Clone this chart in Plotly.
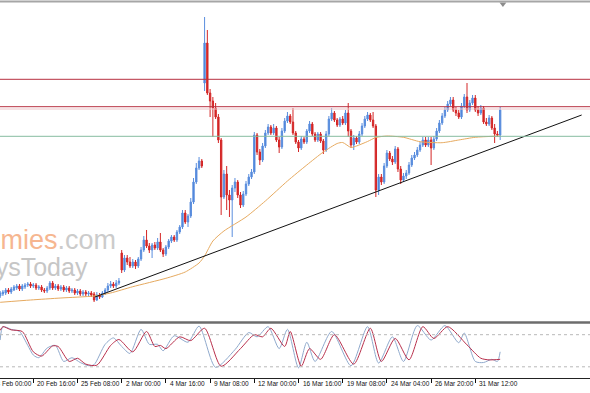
import plotly.graph_objects as go

# ---------------- data (H4 candles) ----------------
opens = [130.4,130.6,130.7,131.0,130.8,131.0,131.2,131.4,131.1,131.3,
         131.5,131.6,131.4,131.5,131.2,131.3,131.0,130.9,131.2,131.7,
         131.2,131.4,131.1,131.3,131.0,131.2,130.9,131.0,130.7,130.9,
         130.6,130.8,130.6,130.7,130.6,130.0,130.5,130.3,130.7,131.0,
         131.4,131.6,131.4,131.7,134.7,133.0,134.2,133.8,133.4,133.8,
         133.4,134.1,135.0,136.0,135.4,135.0,135.5,135.2,135.8,135.0,
         134.6,135.3,135.9,136.3,136.0,136.8,137.3,138.7,137.8,138.4,
         139.8,141.8,143.2,143.9,151.7,155.7,150.7,149.9,149.2,148.3,
         146.0,140.3,142.6,140.5,140.0,141.2,141.8,140.5,139.5,140.6,
         141.6,142.3,142.8,146.5,144.8,144.0,145.4,146.7,147.3,146.7,
         147.2,146.0,145.3,146.9,147.9,148.4,147.8,146.7,145.8,145.2,
         146.1,145.8,146.9,147.6,146.6,146.0,146.6,145.9,145.0,146.6,
         148.1,148.7,148.0,147.5,148.1,147.7,148.7,146.9,145.5,146.2,
         145.8,146.6,147.4,148.1,148.5,148.0,147.4,141.0,142.3,141.8,
         143.4,144.7,144.1,143.8,145.1,143.1,142.0,142.4,142.7,143.5,
         144.2,144.5,145.0,145.5,146.0,145.5,146.0,145.2,146.1,146.9,
         147.7,148.4,149.0,149.6,150.0,149.0,148.7,148.3,149.4,150.3,
         149.0,149.7,150.2,149.0,148.7,149.2,147.8,147.6,148.2,147.2,
         146.6,146.5]
highs = [130.9,131.0,131.2,131.2,131.3,131.5,131.6,131.6,131.6,131.7,
         131.8,131.8,131.7,131.7,131.5,131.5,131.2,131.4,131.9,131.9,
         131.6,131.6,131.5,131.5,131.4,131.4,131.2,131.2,131.1,131.1,
         131.0,131.0,130.9,130.9,130.8,130.8,130.7,130.9,131.2,131.7,
         131.9,131.8,132.0,132.2,135.0,134.5,134.5,134.3,134.1,134.0,
         134.3,135.3,136.4,137.0,135.7,135.7,135.8,136.2,136.7,135.2,
         135.5,136.1,136.5,136.5,137.0,137.5,139.0,139.0,138.6,140.2,
         142.2,143.7,144.3,144.1,158.3,157.0,151.1,150.3,149.7,148.6,
         146.2,143.0,143.4,141.0,141.5,142.2,142.0,140.8,140.9,141.9,
         142.6,143.1,146.8,146.7,145.1,145.7,147.0,147.6,147.5,147.6,
         147.4,146.3,147.2,148.2,148.8,148.6,149.2,146.9,146.0,146.4,
         146.3,147.1,147.9,147.8,146.8,146.8,146.8,146.1,146.9,148.4,
         149.2,148.9,148.2,148.3,148.4,149.0,149.7,147.1,146.5,146.4,
         146.9,147.7,148.4,148.8,148.7,148.8,147.6,142.6,142.6,143.7,
         145.0,144.9,144.4,145.4,145.3,143.4,142.7,143.0,143.8,144.5,
         144.8,145.3,145.8,146.3,146.3,146.3,146.3,146.4,147.2,148.0,
         148.7,149.3,149.9,150.3,150.3,149.3,149.0,149.7,150.6,151.7,
         150.0,150.5,150.5,149.4,149.5,149.4,148.2,148.5,148.4,147.6,
         146.9,149.3]
lows = [130.2,130.4,130.5,130.6,130.6,130.9,131.0,130.9,130.9,131.1,
        131.3,131.2,131.2,131.0,131.0,130.8,130.7,130.7,131.0,131.0,
        131.0,130.9,130.9,130.8,130.8,130.7,130.7,130.5,130.5,130.4,
        130.4,130.4,130.4,130.3,129.8,129.9,130.1,130.2,130.5,130.8,
        131.2,131.2,131.2,131.5,132.7,132.8,133.5,133.2,133.2,133.1,
        133.2,133.9,134.8,135.2,134.7,134.2,135.0,135.0,134.8,134.3,
        134.4,135.1,135.7,135.8,135.8,136.6,137.1,137.6,137.3,138.2,
        139.6,141.6,143.0,143.2,150.9,150.5,148.3,146.3,148.1,145.7,
        138.5,140.1,139.0,138.3,136.3,140.8,140.2,139.2,139.3,140.4,
        141.4,142.1,142.6,144.5,143.5,143.8,145.2,146.5,146.5,146.5,
        145.8,144.7,145.1,146.7,147.7,147.6,146.5,145.6,144.8,145.0,
        145.6,145.6,146.7,146.4,145.8,145.8,145.7,144.6,144.8,146.4,
        147.9,147.8,147.3,147.3,147.5,147.5,146.3,145.2,145.0,145.6,
        145.6,146.4,147.2,147.9,147.8,147.2,140.3,140.5,141.5,141.6,
        143.2,143.9,143.5,143.6,142.8,141.6,141.8,142.1,142.5,143.3,
        144.0,144.3,144.8,145.3,145.3,145.3,143.5,145.0,145.9,146.7,
        147.5,148.2,148.8,149.4,148.8,148.4,148.1,148.1,149.2,148.7,
        148.8,149.5,148.8,148.4,148.5,147.6,147.4,147.4,147.0,145.7,
        146.3,146.0]
closes = [130.7,130.8,131.0,130.8,131.1,131.3,131.4,131.1,131.4,131.5,
          131.6,131.4,131.5,131.2,131.3,131.0,130.9,131.2,131.7,131.2,
          131.4,131.1,131.3,131.0,131.2,130.9,131.0,130.7,130.9,130.6,
          130.8,130.6,130.7,130.5,130.0,130.5,130.3,130.7,131.0,131.4,
          131.6,131.4,131.7,131.9,133.0,134.2,133.8,133.4,133.8,133.4,
          134.1,135.0,136.0,135.4,135.0,135.5,135.2,135.8,135.0,134.6,
          135.3,135.9,136.3,136.0,136.8,137.3,138.7,137.8,138.4,139.8,
          141.8,143.2,143.9,143.4,155.7,150.7,149.9,149.2,148.3,146.0,
          140.3,142.6,140.5,140.0,141.2,141.8,140.5,139.5,140.6,141.6,
          142.3,142.8,146.5,144.8,144.0,145.4,146.7,147.3,146.7,147.2,
          146.0,145.3,146.9,147.9,148.4,147.8,146.7,145.8,145.2,146.1,
          145.8,146.9,147.6,146.6,146.0,146.6,145.9,145.0,146.6,148.1,
          148.7,148.0,147.5,148.1,147.7,148.7,146.9,145.5,146.2,145.8,
          146.6,147.4,148.1,148.5,148.0,147.4,141.0,142.3,141.8,143.4,
          144.7,144.1,143.8,145.1,143.1,142.0,142.4,142.7,143.5,144.2,
          144.5,145.0,145.5,146.0,145.5,146.0,145.2,146.1,146.9,147.7,
          148.4,149.0,149.6,150.0,149.0,148.7,148.3,149.4,150.3,149.0,
          149.7,150.2,149.0,148.7,149.2,147.8,147.6,148.2,147.2,146.6,
          146.5,149.0]
bar_index = list(range(len(closes)))

# moving average (orange line), read at sample bars
ma_bars = [0, 11, 22, 34, 40, 48, 60, 67, 72, 74, 77, 81, 89, 96, 104, 111,
           117, 122, 124, 127, 129, 133, 136, 140, 146, 152, 160, 166, 172, 181]
ma_prices = [129.77, 130.0, 130.2, 130.4, 130.7, 131.33, 132.17, 132.8, 133.7, 134.4,
             135.9, 136.9, 138.3, 139.9, 141.9, 143.5, 144.8, 145.65, 145.75, 145.25,
             145.4, 145.85, 146.25, 146.4, 146.27, 145.83, 145.73, 146.0, 146.27, 146.4]

# horizontal levels and trend line
resistance_levels = [152.07, 149.33]
resistance_shadow = 149.1
support_level = 146.37
trend_bars = [34.3, 210.5]
trend_prices = [130.3, 148.5]

# stochastic oscillator (%K and %D)
k_bars = [0, 1, 4, 7, 10, 12, 14, 17, 20, 23, 26, 29, 32, 34, 38, 41, 44, 47, 51, 54,
          57, 59, 63, 68, 72, 78, 85, 90, 93, 97, 101, 104, 108, 111, 114, 120, 127, 133,
          137, 142, 146, 151, 156, 161, 166, 168, 172, 175, 178, 180, 181]
k_vals = [70, 95, 90, 86, 60, 42, 37, 55, 60, 30, 37, 28, 22, 24, 62, 74, 58, 45, 90, 62,
          62, 50, 78, 66, 96, 19, 52, 84, 76, 95, 54, 90, 18, 66, 30, 86, 22, 95,
          27, 76, 30, 97, 70, 97, 65, 83, 30, 28, 34, 30, 48]
d_bars = [0, 1, 4, 8, 12, 15, 19, 21, 25, 28, 31, 35, 40, 43, 48, 53, 56, 58, 60, 65,
          69, 74, 80, 87, 92, 95, 98, 103, 105, 109, 112, 116, 121, 128, 134, 138, 143,
          148, 153, 157, 162, 169, 174, 177, 181]
d_vals = [88, 95, 89, 86, 48, 40, 59, 58, 30, 36, 25, 23, 60, 71, 48, 86, 58, 60, 54, 76,
          69, 92, 21, 54, 80, 76, 92, 58, 86, 21, 54, 34, 80, 25, 92, 30, 73,
          33, 95, 73, 95, 61, 36, 33, 34]
stoch_levels = [20, 80]

# time axis labels
tick_bars = [-4, 12, 28, 44, 60, 76, 92, 108, 124, 140, 156, 172]
tick_labels = ["18 Feb 00:00", "20 Feb 16:00", "25 Feb 08:00", "2 Mar 00:00",
               "4 Mar 16:00", "9 Mar 08:00", "12 Mar 00:00", "16 Mar 16:00",
               "19 Mar 08:00", "24 Mar 04:00", "26 Mar 20:00", "31 Mar 12:00"]

# ---------------- layout constants ----------------
W, H = 590, 393
BAR_PX = 2.7625
X0_PX = 0.15
x_min = -X0_PX / BAR_PX
x_max = (W - X0_PX) / BAR_PX
price_range = [127.8, 159.75]


def px_to_paper_y(py):
    return (H - py) / H


def bar_to_paper_x(b):
    return (b - x_min) / (x_max - x_min)


fig = go.Figure()

fig.add_trace(go.Candlestick(
    x=bar_index, open=opens, high=highs, low=lows, close=closes,
    increasing=dict(line=dict(color="#5a8ede", width=1), fillcolor="#4a80d8"),
    decreasing=dict(line=dict(color="#d42626", width=1), fillcolor="#d42626"),
    whiskerwidth=0, xaxis="x", yaxis="y", hoverinfo="skip"))

fig.add_trace(go.Scatter(x=ma_bars, y=ma_prices, mode="lines",
                         line=dict(color="#e6aa60", width=1, shape="spline", smoothing=0.6),
                         xaxis="x", yaxis="y", hoverinfo="skip"))

fig.add_trace(go.Scatter(x=trend_bars, y=trend_prices, mode="lines",
                         line=dict(color="#111111", width=1),
                         xaxis="x", yaxis="y", hoverinfo="skip"))

fig.add_trace(go.Scatter(x=[len(closes)], y=[price_range[1] - 0.15], mode="markers",
                         marker=dict(symbol="triangle-down", size=6, color="#8c8c8c"),
                         cliponaxis=False, xaxis="x", yaxis="y", hoverinfo="skip"))

fig.add_trace(go.Scatter(x=k_bars, y=k_vals, mode="lines",
                         line=dict(color="#8fa9cc", width=1, shape="spline", smoothing=0.7),
                         xaxis="x2", yaxis="y2", hoverinfo="skip"))
fig.add_trace(go.Scatter(x=d_bars, y=d_vals, mode="lines",
                         line=dict(color="#b8304c", width=1, shape="spline", smoothing=0.7),
                         xaxis="x2", yaxis="y2", hoverinfo="skip"))

shapes = []
for lvl in resistance_levels:
    shapes.append(dict(type="line", xref="paper", x0=0, x1=1, yref="y", y0=lvl, y1=lvl,
                       line=dict(color="#b73040", width=1)))
shapes.append(dict(type="line", xref="paper", x0=0, x1=1, yref="y",
                   y0=resistance_shadow, y1=resistance_shadow,
                   line=dict(color="#ecc4c8", width=1)))
shapes.append(dict(type="line", xref="paper", x0=0, x1=1, yref="y",
                   y0=support_level, y1=support_level,
                   line=dict(color="#86bca0", width=1)))
for lvl in stoch_levels:
    shapes.append(dict(type="line", xref="paper", x0=0, x1=1, yref="y2", y0=lvl, y1=lvl,
                       line=dict(color="#b8b8b8", width=1, dash="dot")))
# frame lines
shapes.append(dict(type="line", xref="paper", x0=0, x1=1, yref="paper",
                   y0=px_to_paper_y(1.5), y1=px_to_paper_y(1.5),
                   line=dict(color="#a6a6a6", width=2)))
shapes.append(dict(type="line", xref="paper", x0=0, x1=1, yref="paper",
                   y0=px_to_paper_y(322.5), y1=px_to_paper_y(322.5),
                   line=dict(color="#6c6c6c", width=2.5)))

annotations = []
for b, t in zip(tick_bars, tick_labels):
    annotations.append(dict(x=bar_to_paper_x(b), xref="paper", xshift=2,
                            y=px_to_paper_y(383), yref="paper",
                            xanchor="left", yanchor="middle", showarrow=False, text=t,
                            font=dict(family="Liberation Sans, Arial, sans-serif",
                                      size=6.5, color="#111111")))
# watermark (partly cut by the left edge, as in the original)
annotations.append(dict(x=118 / W, xref="paper", y=px_to_paper_y(240), yref="paper",
                        xanchor="right", yanchor="middle", showarrow=False,
                        text="<span style='color:#f6b690'>economies</span><span style='color:#cbcbcb'>.com</span>",
                        font=dict(family="Liberation Sans, Arial, sans-serif", size=27)))
annotations.append(dict(x=90 / W, xref="paper", y=px_to_paper_y(267), yref="paper",
                        xanchor="right", yanchor="middle", showarrow=False,
                        text="EconomysToday",
                        font=dict(family="Liberation Sans, Arial, sans-serif", size=25,
                                  color="#c6c6c6")))

fig.update_layout(
    width=W, height=H, margin=dict(l=0, r=0, t=0, b=0),
    paper_bgcolor="white", plot_bgcolor="white", showlegend=False,
    hovermode=False,
    xaxis=dict(domain=[0, 1], range=[x_min, x_max], anchor="y",
               showticklabels=False, showgrid=False, zeroline=False, showline=False,
               ticks="", rangeslider=dict(visible=False)),
    yaxis=dict(domain=[px_to_paper_y(322), px_to_paper_y(2.5)], range=price_range,
               showticklabels=False, showgrid=False, zeroline=False, showline=False,
               ticks=""),
    xaxis2=dict(domain=[0, 1], range=[x_min, x_max], anchor="y2", matches="x",
                tickmode="array", tickvals=[b for b in tick_bars if b >= x_min],
                ticks="outside", ticklen=4, tickwidth=1, tickcolor="#111111",
                showticklabels=False, showline=True, linecolor="#222222", linewidth=1,
                showgrid=False, zeroline=False),
    yaxis2=dict(domain=[px_to_paper_y(377.5), px_to_paper_y(324)], range=[0, 100],
                showticklabels=False, showgrid=False, zeroline=False, showline=False,
                ticks=""),
    shapes=shapes, annotations=annotations,
)

fig.write_html("out.html")
